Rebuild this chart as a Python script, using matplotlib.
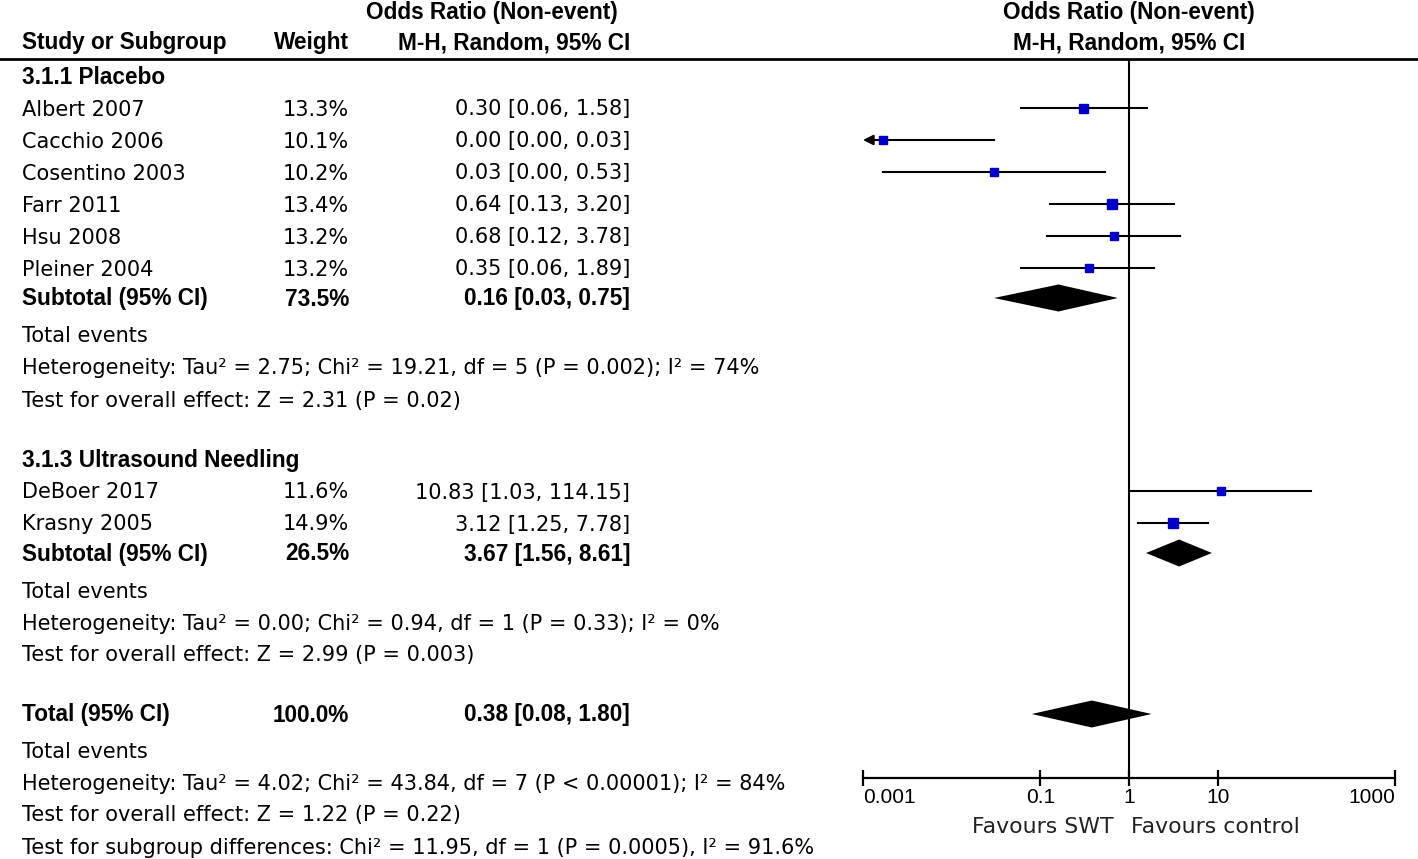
import matplotlib
matplotlib.use("Agg")
import matplotlib.pyplot as plt
from matplotlib.ticker import FixedLocator, FixedFormatter

plt.rcParams['font.family'] = ['Liberation Sans', 'DejaVu Sans']

# ---------------- data ----------------
group1_name = "3.1.1 Placebo"
g1_studies = ["Albert 2007", "Cacchio 2006", "Cosentino 2003", "Farr 2011", "Hsu 2008", "Pleiner 2004"]
g1_weights = [13.3, 10.1, 10.2, 13.4, 13.2, 13.2]
g1_or = [0.30, 0.0017, 0.03, 0.64, 0.68, 0.35]
g1_lo = [0.06, 0.0002, 0.0017, 0.13, 0.12, 0.06]
g1_hi = [1.58, 0.03, 0.53, 3.20, 3.78, 1.89]
g1_sub = (73.5, 0.16, 0.03, 0.75)
g1_het = "Heterogeneity: Tau\u00b2 = 2.75; Chi\u00b2 = 19.21, df = 5 (P = 0.002); I\u00b2 = 74%"
g1_test = "Test for overall effect: Z = 2.31 (P = 0.02)"

group2_name = "3.1.3 Ultrasound Needling"
g2_studies = ["DeBoer 2017", "Krasny 2005"]
g2_weights = [11.6, 14.9]
g2_or = [10.83, 3.12]
g2_lo = [1.03, 1.25]
g2_hi = [114.15, 7.78]
g2_sub = (26.5, 3.67, 1.56, 8.61)
g2_het = "Heterogeneity: Tau\u00b2 = 0.00; Chi\u00b2 = 0.94, df = 1 (P = 0.33); I\u00b2 = 0%"
g2_test = "Test for overall effect: Z = 2.99 (P = 0.003)"

total = (100.0, 0.38, 0.08, 1.80)
tot_het = "Heterogeneity: Tau\u00b2 = 4.02; Chi\u00b2 = 43.84, df = 7 (P < 0.00001); I\u00b2 = 84%"
tot_test = "Test for overall effect: Z = 1.22 (P = 0.22)"
tot_sub = "Test for subgroup differences: Chi\u00b2 = 11.95, df = 1 (P = 0.0005), I\u00b2 = 91.6%"

axis_ticks = [0.001, 0.1, 1, 10, 1000]
axis_labels = ["0.001", "0.1", "1", "10", "1000"]
favours_left = "Favours SWT"
favours_right = "Favours control"

# ---------------- layout (pixels) ----------------
W, H = 1418, 859
fig = plt.figure(figsize=(W / 100, H / 100), dpi=100)
tax = fig.add_axes([0, 0, 1, 1])
tax.set_xlim(0, W)
tax.set_ylim(H, 0)
tax.axis('off')

REG = ['DejaVu Sans']
FS = 15.0
BFS = 16.3
X_NAME, X_WEIGHT, X_CI = 22, 349, 630
AX_L, AX_R = 863, 1395
AX_TOP, AX_BOT = 59, 778

# forest axes: x log scale, y in pixel rows
ax = fig.add_axes([AX_L / W, 1 - AX_BOT / H, (AX_R - AX_L) / W, (AX_BOT - AX_TOP) / H])
ax.set_xscale('log')
ax.set_xlim(axis_ticks[0], axis_ticks[-1])
ax.set_ylim(AX_BOT, AX_TOP)
ax.patch.set_alpha(0)
for s in ['left', 'right', 'top']:
    ax.spines[s].set_visible(False)
ax.spines['bottom'].set_linewidth(1.6)
ax.yaxis.set_visible(False)
ax.xaxis.set_major_locator(FixedLocator(axis_ticks))
ax.xaxis.set_major_formatter(FixedFormatter(axis_labels))
ax.xaxis.set_minor_locator(FixedLocator([]))
ax.tick_params(axis='x', direction='inout', length=11, width=1.6, pad=2,
               labelsize=15, labelcolor='black')
labs = ax.get_xticklabels()
labs[0].set_ha('left')
labs[-1].set_ha('right')
ax.axvline(1, color='black', lw=1.5, zorder=1)

def txt(x, y, s, bold=False, ha='left'):
    if bold:
        tax.text(x, y + 7.5, s, ha=ha, va='baseline', fontsize=BFS,
                 fontweight='bold', color='black')
    else:
        tax.text(x, y + 7.5, s, ha=ha, va='baseline', fontsize=FS,
                 family=REG, color='black')

# headers
def head(x, y, s, ha):
    tax.text(x, y, s, ha=ha, va='center', fontsize=BFS, fontweight='bold')

head(492, 12, "Odds Ratio (Non-event)", 'center')
head(1129, 12, "Odds Ratio (Non-event)", 'center')
head(X_NAME, 43, "Study or Subgroup", 'left')
head(X_WEIGHT, 43, "Weight", 'right')
head(X_CI, 43, "M-H, Random, 95% CI", 'right')
head(1129, 43, "M-H, Random, 95% CI", 'center')
tax.plot([0, W], [59, 59], color='black', lw=2)

def fmt_ci(o, l, h):
    return f"{o:.2f} [{l:.2f}, {h:.2f}]"

def study_rows(rows, studies, weights, ors, los, his):
    xmin, xmax = ax.get_xlim()
    for y, name, w, o, l, h in zip(rows, studies, weights, ors, los, his):
        txt(X_NAME, y, name)
        txt(X_WEIGHT, y, f"{w:.1f}%", ha='right')
        txt(X_CI, y, fmt_ci(o, l, h), ha='right')
        if l < xmin:
            ax.plot([xmin * 1.35, h], [y, y], color='black', lw=1.5, zorder=2)
            ax.annotate('', xy=(xmin, y), xytext=(xmin * 1.5, y),
                        arrowprops=dict(arrowstyle='-|>,head_length=0.6,head_width=0.3',
                                        color='black', lw=1.5, shrinkA=0, shrinkB=0))
        else:
            ax.plot([l, min(h, xmax)], [y, y], color='black', lw=1.5, zorder=2)
        size = 9.0 * (w / 13.3) ** 0.5
        ax.plot([o], [y], marker='s', ms=size * 0.72, color='#0000C8', mec='#0000C8', zorder=3)

def diamond(y, est, lo, hi, h=13.5):
    ax.fill([lo, est, hi, est], [y, y - h, y, y + h], color='black', zorder=3, lw=0)

def summary_row(y, label, vals):
    w, o, l, h = vals
    txt(X_NAME, y, label, bold=True)
    txt(X_WEIGHT, y, f"{w:.1f}%", bold=True, ha='right')
    txt(X_CI, y, fmt_ci(o, l, h), bold=True, ha='right')
    diamond(y, o, l, h)

# group 1
txt(X_NAME, 76, group1_name, bold=True)
study_rows([108, 140, 172, 204, 236, 268], g1_studies, g1_weights, g1_or, g1_lo, g1_hi)
summary_row(298, "Subtotal (95% CI)", g1_sub)
txt(X_NAME, 334, "Total events")
txt(X_NAME, 367, g1_het)
txt(X_NAME, 399, g1_test)

# group 2
txt(X_NAME, 459, group2_name, bold=True)
study_rows([491, 523], g2_studies, g2_weights, g2_or, g2_lo, g2_hi)
summary_row(553, "Subtotal (95% CI)", g2_sub)
txt(X_NAME, 590, "Total events")
txt(X_NAME, 622, g2_het)
txt(X_NAME, 654, g2_test)

# total
summary_row(714, "Total (95% CI)", total)
txt(X_NAME, 750, "Total events")
txt(X_NAME, 782, tot_het)
txt(X_NAME, 814, tot_test)
txt(X_NAME, 846, tot_sub)

# favours labels
tax.text(1114, 827, favours_left, ha='right', va='center', fontsize=15.8, family=REG, color='#222222')
tax.text(1131, 827, favours_right, ha='left', va='center', fontsize=15.8, family=REG, color='#222222')

fig.savefig("out.png", dpi=100)
